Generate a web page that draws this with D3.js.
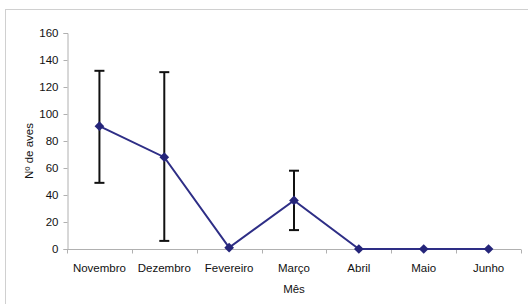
<!DOCTYPE html>
<html>
<head>
<meta charset="utf-8">
<script src="https://cdn.jsdelivr.net/npm/d3@7"></script>
<style>
  body { margin: 0; background: #fff; }
  svg text { font-family: "Liberation Sans", Arial, sans-serif; fill: #111; }
</style>
</head>
<body>
<svg id="vis-svg" width="528" height="304"></svg>
<script>
// values
const months = ['Novembro', 'Dezembro', 'Fevereiro', 'Março', 'Abril', 'Maio', 'Junho'];
const meanBirds = [91, 68, 1, 36, 0, 0, 0];
const errUpper = [132, 131, null, 58, null, null, null];
const errLower = [49, 6, null, 14, null, null, null];
const yTicks = [0, 20, 40, 60, 80, 100, 120, 140, 160];

const svg = d3.select('#vis-svg');

// outer frame, only top and left edges fall inside the picture
svg.append('rect')
    .attr('x', 5.5).attr('y', 9.5)
    .attr('width', 540).attr('height', 310)
    .attr('fill', 'none')
    .attr('stroke', '#d0d0d0');

const plotLeft = 67, plotRight = 521, plotTop = 33, plotBottom = 249;

const x = d3.scaleBand().domain(months).range([plotLeft, plotRight]);
const y = d3.scaleLinear().domain([0, 160]).range([plotBottom, plotTop]);

// y axis
const yAxis = svg.append('g')
    .attr('transform', `translate(${plotLeft + 0.5},0)`)
    .call(d3.axisLeft(y).tickValues(yTicks).tickSize(4).tickPadding(5));
yAxis.select('.domain').attr('stroke', '#b0b0b0');
yAxis.selectAll('.tick line').attr('stroke', '#b0b0b0');
yAxis.selectAll('.tick text').style('font-size', '11.5px').attr('fill', '#111');

// x axis, ticks sit between the categories
const xAxis = svg.append('g')
    .attr('transform', `translate(0,${plotBottom + 0.5})`);
xAxis.append('line')
    .attr('x1', plotLeft).attr('x2', plotRight)
    .attr('stroke', '#b0b0b0');
xAxis.selectAll('.xtick')
    .data(months.concat(['end']))
    .enter().append('line')
    .attr('x1', (d, i) => Math.round(plotLeft + i * x.step()) + 0.5)
    .attr('x2', (d, i) => Math.round(plotLeft + i * x.step()) + 0.5)
    .attr('y1', 0).attr('y2', 4)
    .attr('stroke', '#b0b0b0');
xAxis.selectAll('text')
    .data(months)
    .enter().append('text')
    .attr('x', d => x(d) + x.bandwidth() / 2)
    .attr('y', 22)
    .attr('text-anchor', 'middle')
    .style('font-size', '11.5px')
    .text(d => d);

// error bars
const errs = months.map((m, i) => ({ m, hi: errUpper[i], lo: errLower[i] }))
    .filter(d => d.hi !== null);
const cx = m => x(m) + x.bandwidth() / 2;

errs.forEach(d => {
  const g = svg.append('g').attr('stroke', '#111').attr('stroke-width', 2);
  g.append('line')
      .attr('x1', cx(d.m)).attr('x2', cx(d.m))
      .attr('y1', y(d.hi)).attr('y2', y(d.lo));
  [d.hi, d.lo].forEach(v => {
    g.append('line')
        .attr('x1', cx(d.m) - 5).attr('x2', cx(d.m) + 5)
        .attr('y1', y(v)).attr('y2', y(v));
  });
});

// the line
const line = d3.line()
    .x((d, i) => cx(months[i]))
    .y(d => y(d));

svg.append('path')
    .datum(meanBirds)
    .attr('d', line)
    .attr('fill', 'none')
    .attr('stroke', '#2e2e86')
    .attr('stroke-width', 2);

// diamond markers
svg.selectAll('.marker')
    .data(meanBirds)
    .enter().append('path')
    .attr('class', 'marker')
    .attr('d', d3.symbol().type(d3.symbolDiamond2).size(60))
    .attr('transform', (d, i) => `translate(${cx(months[i])},${y(d)})`)
    .attr('fill', '#25257a');

// axis titles
svg.append('text')
    .attr('x', (plotLeft + plotRight) / 2)
    .attr('y', 293)
    .attr('text-anchor', 'middle')
    .style('font-size', '11.5px')
    .text('Mês');

svg.append('text')
    .attr('transform', 'translate(33,151) rotate(-90)')
    .attr('text-anchor', 'middle')
    .style('font-size', '11.5px')
    .text('Nº de aves');
</script>
</body>
</html>
